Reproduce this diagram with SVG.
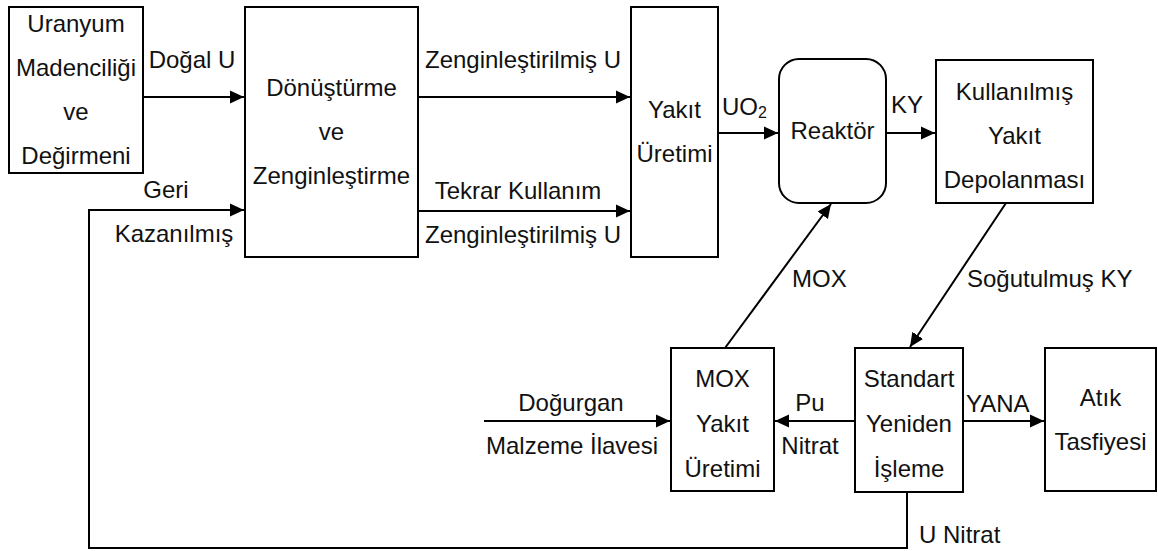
<svg xmlns="http://www.w3.org/2000/svg" width="1158" height="551" viewBox="0 0 1158 551">
<style>
  .box { fill: #ffffff; stroke: #000000; stroke-width: 2; }
  .t { font-family: "Liberation Sans", Arial, sans-serif; font-size: 24px; fill: #111111; }
  .c { text-anchor: middle; }
  .edge { fill: none; stroke: #000000; stroke-width: 2; }
  .arr { marker-end: url(#ah); }
</style>
<defs>
  <marker id="ah" markerWidth="15" markerHeight="14" refX="14" refY="7" orient="auto" markerUnits="userSpaceOnUse">
    <path d="M0,0.5 L14,7 L0,13.5 z" fill="#000000"/>
  </marker>
</defs>
<rect width="1158" height="551" fill="#ffffff"/>

<g id="connectors">
  <path class="edge arr" d="M143,97 H244"/>
  <path class="edge arr" d="M418,97 H630"/>
  <path class="edge arr" d="M418,211 H630"/>
  <path class="edge arr" d="M718,133 H778"/>
  <path class="edge arr" d="M886,133 H935"/>
  <path class="edge arr" d="M1006,203 L910,347"/>
  <path class="edge arr" d="M725,348 L831,204"/>
  <path class="edge arr" d="M855,421 H775"/>
  <path class="edge arr" d="M484,421 H670"/>
  <path class="edge arr" d="M963,421 H1044"/>
  <path class="edge arr" d="M907,492 V548 H89 V210 H244"/>
  <text class="t c" x="192" y="68">Doğal U</text>
  <text class="t c" x="523" y="68">Zenginleştirilmiş U</text>
  <text class="t c" x="518" y="199">Tekrar Kullanım</text>
  <text class="t c" x="523" y="243">Zenginleştirilmiş U</text>
  <text class="t c" x="166" y="198">Geri</text>
  <text class="t c" x="174" y="242">Kazanılmış</text>
  <text class="t" x="722" y="115">UO<tspan font-size="16" dy="3">2</tspan></text>
  <text class="t" x="891" y="113">KY</text>
  <text class="t" x="792" y="287">MOX</text>
  <text class="t" x="967" y="287">Soğutulmuş KY</text>
  <text class="t c" x="571" y="411">Doğurgan</text>
  <text class="t c" x="572" y="454">Malzeme İlavesi</text>
  <text class="t c" x="810" y="411">Pu</text>
  <text class="t c" x="810" y="454">Nitrat</text>
  <text class="t" x="966" y="412">YANA</text>
  <text class="t" x="919" y="543">U Nitrat</text>
</g>

<g id="node-uranyum">
  <rect class="box" x="9" y="7" width="134" height="166"/>
  <text class="t c" x="76" y="32">Uranyum</text>
  <text class="t c" x="76" y="76">Madenciliği</text>
  <text class="t c" x="76" y="120">ve</text>
  <text class="t c" x="76" y="164">Değirmeni</text>
</g>

<g id="node-donusturme">
  <rect class="box" x="245" y="7" width="173" height="250"/>
  <text class="t c" x="331.5" y="96">Dönüştürme</text>
  <text class="t c" x="331.5" y="140">ve</text>
  <text class="t c" x="331.5" y="184">Zenginleştirme</text>
</g>

<g id="node-yakit-uretimi">
  <rect class="box" x="631" y="7" width="87" height="250"/>
  <text class="t c" x="674.5" y="118">Yakıt</text>
  <text class="t c" x="674.5" y="162">Üretimi</text>
</g>

<g id="node-reaktor">
  <rect class="box" x="779" y="59" width="107" height="144" rx="20" ry="20"/>
  <text class="t c" x="832.5" y="139">Reaktör</text>
</g>

<g id="node-kullanilmis">
  <rect class="box" x="936" y="60" width="157" height="143"/>
  <text class="t c" x="1014.5" y="100">Kullanılmış</text>
  <text class="t c" x="1014.5" y="144">Yakıt</text>
  <text class="t c" x="1014.5" y="188">Depolanması</text>
</g>

<g id="node-mox">
  <rect class="box" x="671" y="348" width="103" height="143"/>
  <text class="t c" x="722.5" y="387">MOX</text>
  <text class="t c" x="722.5" y="432">Yakıt</text>
  <text class="t c" x="722.5" y="477">Üretimi</text>
</g>

<g id="node-standart">
  <rect class="box" x="855" y="348" width="108" height="144"/>
  <text class="t c" x="909" y="387">Standart</text>
  <text class="t c" x="909" y="432">Yeniden</text>
  <text class="t c" x="909" y="477">İşleme</text>
</g>

<g id="node-atik">
  <rect class="box" x="1045" y="348" width="111" height="143"/>
  <text class="t c" x="1100.5" y="406">Atık</text>
  <text class="t c" x="1100.5" y="450">Tasfiyesi</text>
</g>
</svg>
